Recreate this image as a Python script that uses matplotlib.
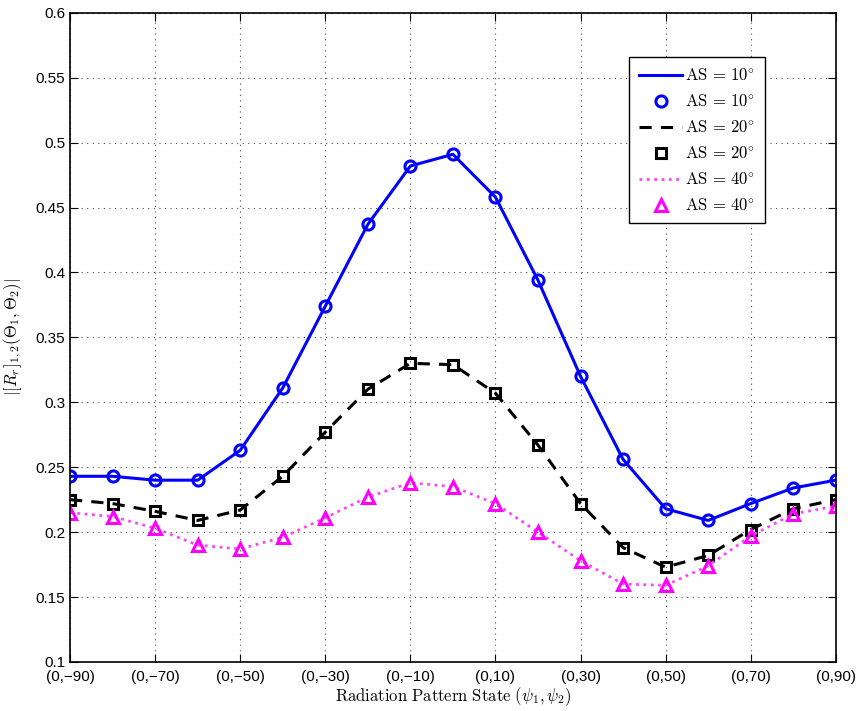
import numpy as np
import matplotlib.pyplot as plt

plt.rcParams['mathtext.fontset'] = 'cm'
plt.rcParams['font.family'] = ['Liberation Sans', 'DejaVu Sans']

# estats (0,psi2), psi2 de -90 a 90 en passos de 10
psi2 = [-90, -80, -70, -60, -50, -40, -30, -20, -10, 0, 10, 20, 30, 40, 50, 60, 70, 80, 90]
as10 = [0.243, 0.243, 0.240, 0.240, 0.263, 0.311, 0.374, 0.437, 0.482, 0.491,
        0.458, 0.394, 0.320, 0.256, 0.218, 0.209, 0.222, 0.234, 0.240]
as20 = [0.225, 0.222, 0.216, 0.209, 0.217, 0.243, 0.277, 0.310, 0.330, 0.329,
        0.307, 0.267, 0.222, 0.188, 0.173, 0.182, 0.202, 0.218, 0.225]
as40 = [0.215, 0.212, 0.203, 0.190, 0.187, 0.196, 0.211, 0.227, 0.238, 0.235,
        0.222, 0.200, 0.178, 0.160, 0.159, 0.174, 0.197, 0.214, 0.220]
tick_vals = [-90, -70, -50, -30, -10, 10, 30, 50, 70, 90]
tick_labels = ['(0,\u221290)', '(0,\u221270)', '(0,\u221250)', '(0,\u221230)', '(0,\u221210)',
               '(0,10)', '(0,30)', '(0,50)', '(0,70)', '(0,90)']

fig = plt.figure(figsize=(8.59, 7.11), dpi=100)
ax = fig.add_axes([0.0815, 0.069, 0.8915, 0.913])

lab10 = r'$\mathrm{AS}\,=\,10^{\circ}$'
lab20 = r'$\mathrm{AS}\,=\,20^{\circ}$'
lab40 = r'$\mathrm{AS}\,=\,40^{\circ}$'
ax.plot(psi2, as10, '-', color='#0000ff', lw=2.2, label=lab10)
ax.plot(psi2, as10, 'o', color='#0000ff', ms=8, mfc='none', mew=2.2, ls='none', label=lab10)
ax.plot(psi2, as20, '--', color='black', lw=2.2, dashes=(4, 3), label=lab20)
ax.plot(psi2, as20, 's', color='black', ms=7.5, mfc='none', mew=2.2, ls='none', label=lab20)
ax.plot(psi2, as40, ':', color='#ff44ff', lw=2, label=lab40)
ax.plot(psi2, as40, '^', color='#ff00ff', ms=9, mfc='none', mew=2.2, ls='none', label=lab40)

ax.set_xlim(-90, 90)
ax.set_ylim(0.1, 0.6)
ax.set_xticks(tick_vals)
ax.set_xticklabels(tick_labels)
ax.set_yticks(np.arange(0.1, 0.61, 0.05))
ax.set_yticklabels(['0.1', '0.15', '0.2', '0.25', '0.3', '0.35', '0.4', '0.45', '0.5', '0.55', '0.6'])
ax.tick_params(direction='in', top=True, right=True, labelsize=11, length=6)
ax.tick_params(axis='x', pad=6)
ax.grid(True, ls=(0, (1, 4)), color='black', lw=0.8, alpha=0.7)
for s in ax.spines.values():
    s.set_linewidth(1.2)

ax.set_xlabel(r'$\mathrm{Radiation\ Pattern\ State}\ (\psi_1,\psi_2)$', fontsize=12, labelpad=1)
ax.set_ylabel(r'$|[R_r]_{1,2}(\mathbf{\Theta}_1,\mathbf{\Theta}_2)|$', fontsize=12, labelpad=8)

leg = ax.legend(loc='upper right', bbox_to_anchor=(0.918, 0.944), fontsize=12, fancybox=False,
                edgecolor='black', framealpha=1, handlelength=2.6, handletextpad=0.15,
                borderpad=0.6, labelspacing=0.6)
leg.get_frame().set_linewidth(1.0)

plt.savefig('out.png', dpi=100)
